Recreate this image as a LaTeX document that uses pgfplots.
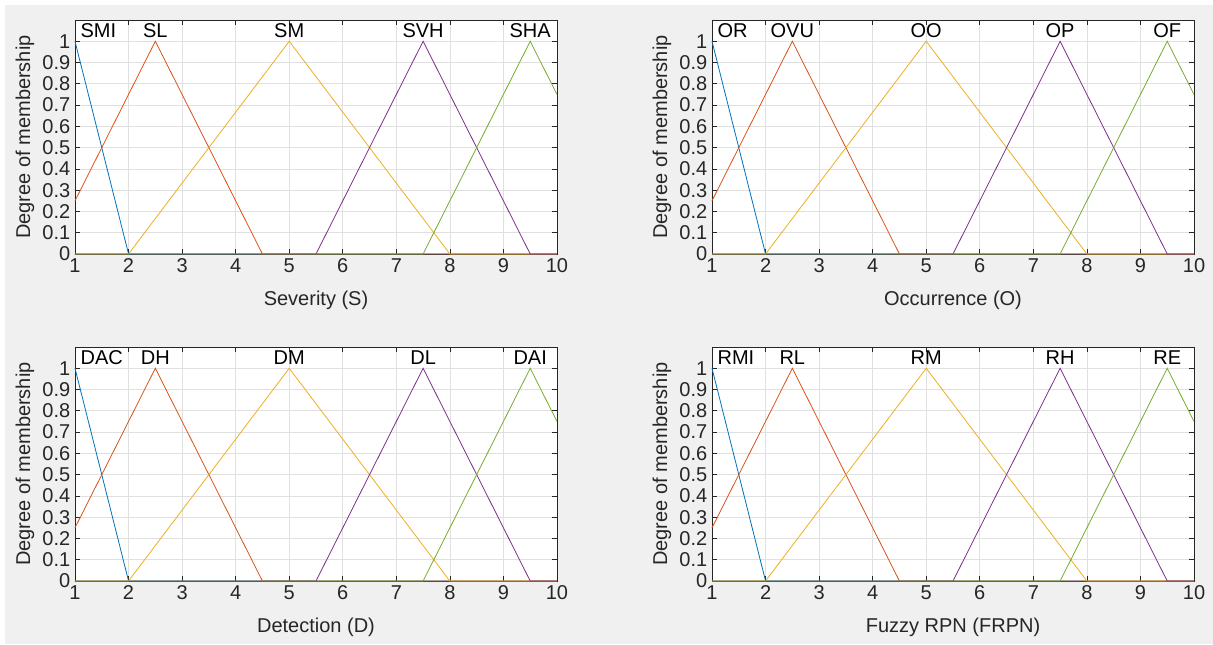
\documentclass[border=0pt]{standalone}
\usepackage{pgfplots}
\pgfplotsset{compat=1.18}
\usepackage{fontspec}
\setmainfont{Liberation Sans}
\definecolor{mblue}{rgb}{0,0.447,0.741}
\definecolor{morange}{rgb}{0.85,0.325,0.098}
\definecolor{myellow}{rgb}{0.929,0.694,0.125}
\definecolor{mpurple}{rgb}{0.494,0.184,0.556}
\definecolor{mgreen}{rgb}{0.466,0.674,0.188}
\definecolor{axgray}{rgb}{0.15,0.15,0.15}
\definecolor{bggray}{HTML}{F0F0F0}
\definecolor{gridgray}{HTML}{E0E0E0}
\newcommand{\fs}{\fontsize{15}{18}\selectfont}
\pgfplotsset{mf/.style={
  scale only axis, width=361.5pt, height=175.5pt,
  xmin=1, xmax=10, ymin=0, ymax=1.1,
  xtick={1,2,3,4,5,6,7,8,9,10},
  ytick={0,0.1,0.2,0.3,0.4,0.5,0.6,0.7,0.8,0.9,1},
  yticklabels={0,0.1,0.2,0.3,0.4,0.5,0.6,0.7,0.8,0.9,1},
  xticklabels={1,2,3,4,5,6,7,8,9,10},
  grid=major, major grid style={color=gridgray, line width=0.5pt},
  tick align=inside, major tick length=4pt,
  axis line style={axgray, line width=0.5pt},
  tick style={axgray, line width=0.5pt},
  ticklabel style={font=\fs, text=axgray},
  label style={font=\fs, text=axgray},
  /pgf/number format/assume math mode=true,
  ylabel={Degree of membership},
  ylabel style={at={(axis description cs:-0.1037,0.5)}, anchor=center},
  xlabel style={at={(axis description cs:0.5,-0.1966)}, anchor=center},
  axis background/.style={fill=white},
  every axis plot/.append style={line width=0.6pt, mark=none},
  clip=false,
}}
\newcommand{\mfplots}{%
  \addplot[mblue] coordinates {(1,1) (2,0) (10,0)};
  \addplot[morange] coordinates {(1,0.25) (2.5,1) (4.5,0) (10,0)};
  \addplot[myellow] coordinates {(1,0) (2,0) (5,1) (8,0) (10,0)};
  \addplot[mpurple] coordinates {(1,0) (5.5,0) (7.5,1) (9.5,0) (10,0)};
  \addplot[mgreen] coordinates {(1,0) (7.5,0) (9.5,1) (10,0.75)};
}
\newcommand{\mfnames}[5]{%
  \node[anchor=west, font=\fs, inner sep=0pt, xshift=4pt] at (axis cs:1,1.05) {#1};
  \node[anchor=center, font=\fs, inner sep=0pt] at (axis cs:2.5,1.05) {#2};
  \node[anchor=center, font=\fs, inner sep=0pt] at (axis cs:5,1.05) {#3};
  \node[anchor=center, font=\fs, inner sep=0pt] at (axis cs:7.5,1.05) {#4};
  \node[anchor=center, font=\fs, inner sep=0pt] at (axis cs:9.5,1.05) {#5};
}
\begin{document}
\begin{tikzpicture}
\fill[white] (0,0) rectangle (909.75pt,483pt);
\fill[bggray] (3.75pt,0) rectangle (909.75pt,479.25pt);
\useasboundingbox (0,0) rectangle (909.75pt,483pt);
\begin{axis}[mf, at={(56.25pt,292.5pt)}, anchor=south west, xlabel={Severity (S)}]
\mfplots
\mfnames{SMI}{SL}{SM}{SVH}{SHA}
\end{axis}
\begin{axis}[mf, at={(534pt,292.5pt)}, anchor=south west, xlabel={Occurrence (O)}]
\mfplots
\mfnames{OR}{OVU}{OO}{OP}{OF}
\end{axis}
\begin{axis}[mf, at={(56.25pt,47.25pt)}, anchor=south west, xlabel={Detection (D)}]
\mfplots
\mfnames{DAC}{DH}{DM}{DL}{DAI}
\end{axis}
\begin{axis}[mf, at={(534pt,47.25pt)}, anchor=south west, xlabel={Fuzzy RPN (FRPN)}]
\mfplots
\mfnames{RMI}{RL}{RM}{RH}{RE}
\end{axis}
\end{tikzpicture}
\end{document}
